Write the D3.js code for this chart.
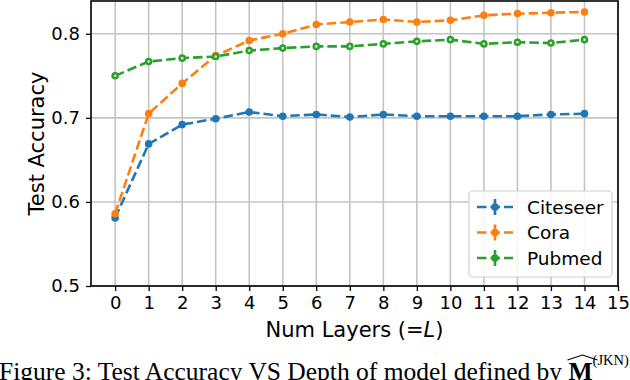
<!DOCTYPE html>
<html>
<head>
<meta charset="utf-8">
<script src="https://cdn.jsdelivr.net/npm/d3@7"></script>
<style>
  html, body { margin: 0; padding: 0; background: #fff; }
  svg { display: block; }
</style>
</head>
<body>
<svg id="chart" width="630" height="380"></svg>
<script>
const layers = [0,1,2,3,4,5,6,7,8,9,10,11,12,13,14];
const citeseer = [0.581,0.669,0.692,0.699,0.707,0.702,0.704,0.701,0.704,0.702,0.702,0.702,0.702,0.704,0.705];
const cora     = [0.586,0.705,0.741,0.774,0.792,0.800,0.811,0.814,0.817,0.814,0.816,0.822,0.824,0.825,0.826];
const pubmed   = [0.750,0.767,0.771,0.773,0.780,0.783,0.785,0.785,0.788,0.791,0.793,0.788,0.790,0.789,0.793];
const seriesNames = ["Citeseer","Cora","Pubmed"];
const seriesColors = ["#1f77b4","#ff7f0e","#2ca02c"];
const xTicks = [0,1,2,3,4,5,6,7,8,9,10,11,12,13,14,15];
const yTicks = [0.5,0.6,0.7,0.8];

const series = [citeseer, cora, pubmed];
const svg = d3.select("#chart");
const L = 91, R = 618, T = 1, B = 286;
const x = d3.scaleLinear().domain([-0.72, 15]).range([L, R]);
const y = d3.scaleLinear().domain([0.5, 0.839]).range([B, T]);

// grid
const grid = svg.append("g");
grid.selectAll("line.vx").data(xTicks).join("line")
  .attr("x1", d => x(d)).attr("x2", d => x(d)).attr("y1", T).attr("y2", B)
  .attr("stroke", "#c4c4c4").attr("stroke-width", 1.6);
grid.selectAll("line.hy").data(yTicks).join("line")
  .attr("y1", d => y(d)).attr("y2", d => y(d)).attr("x1", L).attr("x2", R)
  .attr("stroke", "#c4c4c4").attr("stroke-width", 1.6);

// axes
const xAxis = d3.axisBottom(x).tickValues(xTicks).tickFormat(d3.format("d")).tickSize(5).tickPadding(5);
const yAxis = d3.axisLeft(y).tickValues(yTicks).tickFormat(d3.format(".1f")).tickSize(5).tickPadding(6);
const gx = svg.append("g").attr("transform", `translate(0,${B})`).call(xAxis);
const gy = svg.append("g").attr("transform", `translate(${L},0)`).call(yAxis);
[gx, gy].forEach(g => {
  g.select(".domain").remove();
  g.selectAll(".tick line").attr("stroke", "#000").attr("stroke-width", 1.3);
  g.selectAll(".tick text").attr("fill", "#000")
    .style("font-family", "DejaVu Sans").style("font-size", "18px");
});

// lines
const line = d3.line().x((d, i) => x(layers[i])).y(d => y(d));
series.forEach((s, k) => {
  const g = svg.append("g");
  g.append("path").datum(s).attr("d", line)
    .attr("fill", "none").attr("stroke", seriesColors[k])
    .attr("stroke-width", 2.6).attr("stroke-dasharray", "9.5,4");
  g.selectAll("circle.m").data(s).join("circle")
    .attr("cx", (d, i) => x(layers[i])).attr("cy", d => y(d))
    .attr("r", 3.8).attr("fill", seriesColors[k]);
  if (k === 2) {
    g.selectAll("circle.c").data(s).join("circle")
      .attr("cx", (d, i) => x(layers[i])).attr("cy", d => y(d))
      .attr("r", 1.3).attr("fill", "#cfe8cf");
  }
});

// spines
svg.append("rect").attr("x", L).attr("y", T).attr("width", R - L).attr("height", B - T)
  .attr("fill", "none").attr("stroke", "#000").attr("stroke-width", 1.6);

// legend
const lg = svg.append("g");
lg.append("rect").attr("x", 469).attr("y", 191).attr("width", 143).attr("height", 86)
  .attr("rx", 4).attr("fill", "#fff").attr("fill-opacity", 0.85)
  .attr("stroke", "#d0d0d0").attr("stroke-width", 1.2);
seriesNames.forEach((n, k) => {
  const cy = 207 + k * 25.5;
  lg.append("line").attr("x1", 477).attr("x2", 513).attr("y1", cy).attr("y2", cy)
    .attr("stroke", seriesColors[k]).attr("stroke-width", 2.6).attr("stroke-dasharray", "9.5,4");
  lg.append("line").attr("x1", 495).attr("x2", 495).attr("y1", cy - 8).attr("y2", cy + 8)
    .attr("stroke", seriesColors[k]).attr("stroke-width", 2.6);
  lg.append("circle").attr("cx", 495).attr("cy", cy).attr("r", 3.8).attr("fill", seriesColors[k]);
  lg.append("text").attr("x", 527).attr("y", cy + 6.5).text(n)
    .style("font-family", "DejaVu Sans").style("font-size", "18.5px").attr("fill", "#000");
});

// axis labels
const xl = svg.append("text").attr("x", (L + R) / 2).attr("y", 337).attr("text-anchor", "middle")
  .style("font-family", "DejaVu Sans").style("font-size", "21px").attr("fill", "#000");
xl.append("tspan").text("Num Layers (=");
xl.append("tspan").text("L").style("font-style", "italic");
xl.append("tspan").text(")");
svg.append("text").attr("transform", `translate(44,${(T + B) / 2}) rotate(-90)`)
  .attr("text-anchor", "middle")
  .style("font-family", "DejaVu Sans").style("font-size", "21px").attr("fill", "#000")
  .text("Test Accuracy");

// caption (cut off at the bottom, as in the source figure)
const cap = svg.append("text").attr("x", -1).attr("y", 380)
  .style("font-family", "Liberation Serif").style("font-size", "25.5px").attr("fill", "#000");
cap.append("tspan").text("Figure 3: Test Accuracy VS Depth of model defined by ");
const mT = cap.append("tspan").text("M").style("font-weight", "bold");
cap.append("tspan").text("(JKN)").attr("dy", -15).style("font-size", "14.5px");
const capNode = cap.node();
const ext = capNode.getExtentOfChar ? capNode.getExtentOfChar(capNode.getNumberOfChars() - 6) : null;
if (ext) {
  const x0 = ext.x - 1, x1 = ext.x + ext.width + 5, yh = 360;
  svg.append("path")
    .attr("d", `M${x0},${yh} L${(x0 + x1) / 2},${yh - 5} L${x1},${yh}`)
    .attr("fill", "none").attr("stroke", "#000").attr("stroke-width", 1.1);
}
</script>
</body>
</html>
